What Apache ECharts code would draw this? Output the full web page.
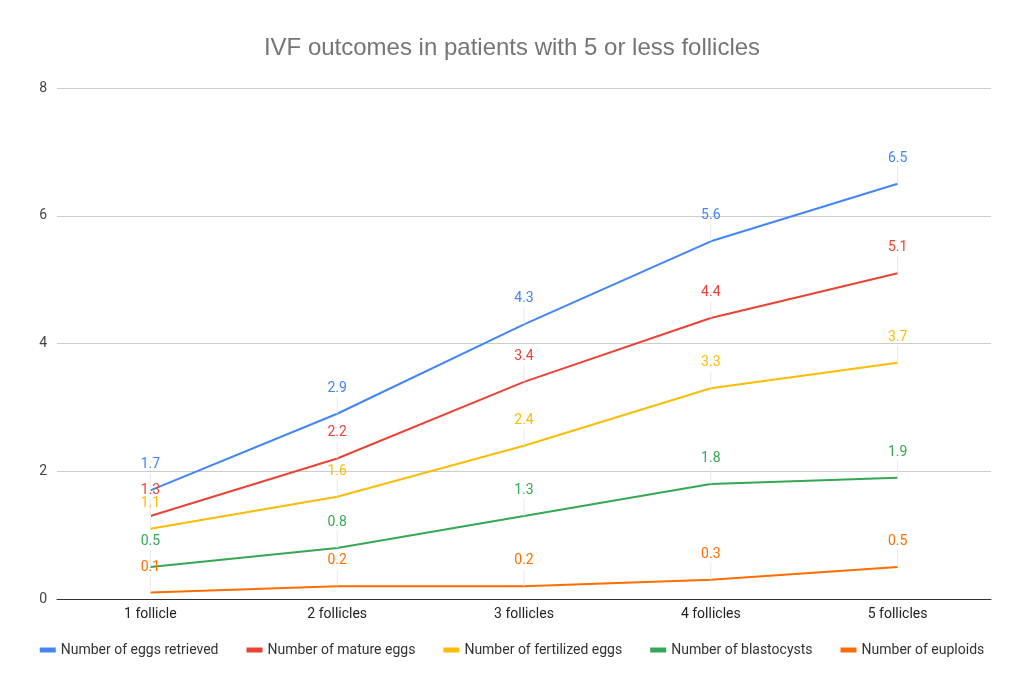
<!DOCTYPE html>
<html lang="en">
<head>
<meta charset="UTF-8">
<title>IVF outcomes</title>
<style>
    * { margin: 0; padding: 0; }
    html, body, #chart { width: 100%; height: 100%; overflow: hidden; background: #fff; }
</style>
</head>
<body>
<div id="chart"></div>
<script src="https://cdn.jsdelivr.net/npm/echarts@6/dist/echarts.min.js"></script>
<script>
    let categories = ['1 follicle', '2 follicles', '3 follicles', '4 follicles', '5 follicles'];
    let seriesNames = ['Number of eggs retrieved', 'Number of mature eggs', 'Number of fertilized eggs', 'Number of blastocysts', 'Number of euploids'];
    let eggsRetrieved = [1.7, 2.9, 4.3, 5.6, 6.5];
    let matureEggs = [1.3, 2.2, 3.4, 4.4, 5.1];
    let fertilizedEggs = [1.1, 1.6, 2.4, 3.3, 3.7];
    let blastocysts = [0.5, 0.8, 1.3, 1.8, 1.9];
    let euploids = [0.1, 0.2, 0.2, 0.3, 0.5];
    let colors = ['#4285F4', '#EA4335', '#FBBC04', '#34A853', '#FF6D01'];

    let allData = [eggsRetrieved, matureEggs, fertilizedEggs, blastocysts, euploids];

    // value label with a thin vertical leader line underneath (drawn as rich text box)
    let series = allData.map((data, i) => ({
        name: seriesNames[i],
        type: 'line',
        data: data,
        showSymbol: true,
        symbol: 'circle',
        symbolSize: 0,
        lineStyle: { width: 2, color: colors[i] },
        itemStyle: { color: colors[i] },
        label: {
            show: true,
            position: 'top',
            distance: 0,
            align: 'center',
            formatter: p => '{v|' + p.value + '}\n{l| }',
            rich: {
                v: { color: colors[i], fontSize: 14, fontFamily: 'Roboto', lineHeight: 17, align: 'center' },
                l: { width: 1, height: 17, backgroundColor: '#e8e8e8', align: 'center', fontSize: 1 }
            }
        }
    }));

    let chart = echarts.init(document.getElementById('chart'));
    chart.setOption({
        animation: false,
        color: colors,
        title: {
            text: 'IVF outcomes in patients with 5 or less follicles',
            left: 'center',
            top: 31,
            textStyle: { color: '#757575', fontSize: 24, fontWeight: 'normal', fontFamily: 'Liberation Sans' }
        },
        legend: {
            bottom: 31,
            left: 'center',
            itemWidth: 16,
            itemHeight: 5,
            itemGap: 28,
            icon: 'rect',
            textStyle: { color: '#333', fontSize: 14, fontFamily: 'Roboto' }
        },
        grid: { left: 57, right: 33, top: 88, bottom: 94 },
        xAxis: {
            type: 'category',
            data: categories,
            boundaryGap: true,
            axisTick: { show: false },
            axisLine: { lineStyle: { color: '#333', width: 1 } },
            axisLabel: { color: '#222', fontSize: 14, margin: 8, fontFamily: 'Roboto' }
        },
        yAxis: {
            type: 'value',
            min: 0,
            max: 8,
            interval: 2,
            axisLine: { show: false },
            axisTick: { show: false },
            splitLine: { lineStyle: { color: '#cccccc' } },
            axisLabel: { color: '#444', fontSize: 14, margin: 10, fontFamily: 'Roboto' }
        },
        series: series
    });
</script>
</body>
</html>
